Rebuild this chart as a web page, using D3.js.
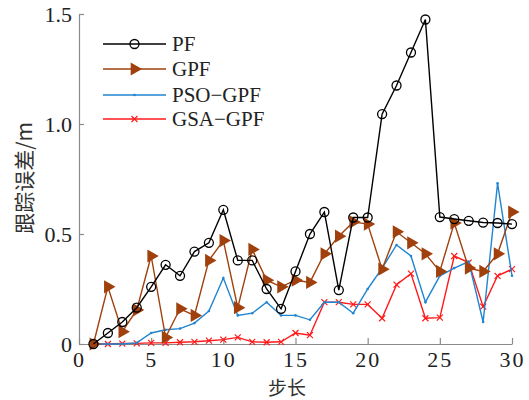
<!DOCTYPE html>
<html>
<head>
<meta charset="utf-8">
<script src="https://cdn.jsdelivr.net/npm/d3@7"></script>
<style>
  body { margin: 0; background: #fff; }
</style>
</head>
<body>
<div id="chart"></div>
<script>
// step numbers and tracking error (m) per method
let steps = d3.range(1, 31)

let pfValues = [0, 0.05, 0.10, 0.165, 0.26, 0.36, 0.31, 0.42, 0.46, 0.61,
	0.38, 0.38, 0.25, 0.16, 0.33, 0.50, 0.60, 0.245, 0.575, 0.575,
	1.045, 1.175, 1.325, 1.475, 0.577, 0.568, 0.56, 0.552, 0.55, 0.545]

let gpfValues = [0, 0.26, 0.056, 0.155, 0.40, 0.03, 0.16, 0.13, 0.38, 0.47,
	0.165, 0.43, 0.29, 0.26, 0.29, 0.28, 0.41, 0.49, 0.555, 0.545,
	0.34, 0.51, 0.46, 0.41, 0.33, 0.55, 0.345, 0.33, 0.41, 0.60]

let psoValues = [0, 0, 0, 0.005, 0.05, 0.065, 0.07, 0.095, 0.15, 0.30,
	0.13, 0.14, 0.19, 0.13, 0.13, 0.11, 0.19, 0.19, 0.14, 0.25,
	0.345, 0.45, 0.40, 0.19, 0.31, 0.345, 0.375, 0.10, 0.73, 0.31]

let gsaValues = [0, 0, 0.002, 0.003, 0.005, 0.005, 0.008, 0.01, 0.015, 0.02,
	0.03, 0.01, 0.008, 0.01, 0.05, 0.04, 0.19, 0.19, 0.18, 0.18,
	0.117, 0.27, 0.32, 0.117, 0.12, 0.40, 0.37, 0.17, 0.31, 0.34]

let seriesNames = ['PF', 'GPF', 'PSO\u2212GPF', 'GSA\u2212GPF']
let seriesColors = ['#000000', '#a0400c', '#2185d0', '#ff1a1a']
let seriesMarkers = ['circle', 'triangle', 'dot', 'cross']
let seriesValues = [pfValues, gpfValues, psoValues, gsaValues]

let xTicks = [0, 5, 10, 15, 20, 25, 30]
let yTicks = [0, 0.5, 1.0, 1.5]
let yTickLabels = ['0', '0.5', '1.0', '1.5']

let width = 529
let height = 400

let xScale = d3.scaleLinear()
	.domain([0, 30])
	.range([79, 512])

let yScale = d3.scaleLinear()
	.domain([0, 1.5])
	.range([344, 14])

const svg = d3.select('#chart')
	.append('svg')
	.attr('width', width)
	.attr('height', height)

const serif = '"Liberation Serif", "Times New Roman", serif'
const axisColor = '#8a8a8a'

// axes, ticks pointing inward like the matlab figure
let xAxis = g => g.attr('transform', `translate(0,${yScale(0)})`)
	.call(d3.axisBottom(xScale).tickValues(xTicks).tickSizeInner(-6).tickSizeOuter(0).tickPadding(7))

let yAxis = g => g.attr('transform', `translate(${xScale(0)},0)`)
	.call(d3.axisLeft(yScale).tickValues(yTicks).tickFormat((d, i) => yTickLabels[i]).tickSizeInner(-5).tickSizeOuter(0).tickPadding(7))

let xG = svg.append('g').call(xAxis)
let yG = svg.append('g').call(yAxis)

;[xG, yG].forEach(function(g){
	g.selectAll('path').attr('stroke', axisColor).attr('stroke-width', 1.2)
	g.selectAll('line').attr('stroke', axisColor).attr('stroke-width', 1.2)
	g.selectAll('text')
		.attr('fill', '#222')
		.attr('font-family', serif)
		.attr('font-size', 22)
})
xG.selectAll('text').attr('letter-spacing', 2)

let line = d3.line()
	.x((d, i) => xScale(steps[i]))
	.y(d => yScale(d))

let triangle = d3.symbol().type(d3.symbolTriangle).size(75)

function drawMarker(g, kind, color, x, y){
	if(kind == 'circle'){
		g.append('circle')
			.attr('cx', x).attr('cy', y).attr('r', 4.5)
			.attr('fill', 'none').attr('stroke', color).attr('stroke-width', 1.3)
	}
	else if(kind == 'triangle'){
		g.append('path')
			.attr('d', triangle())
			.attr('transform', `translate(${x},${y}) rotate(90)`)
			.attr('fill', color)
	}
	else if(kind == 'dot'){
		g.append('circle')
			.attr('cx', x).attr('cy', y).attr('r', 1.3)
			.attr('fill', color)
	}
	else {
		g.append('path')
			.attr('d', `M${x - 3},${y - 3}L${x + 3},${y + 3}M${x - 3},${y + 3}L${x + 3},${y - 3}`)
			.attr('stroke', color).attr('stroke-width', 1.2)
	}
}

// draw back to front so PF sits on top
for(let s = 3; s >= 0; s--){
	let g = svg.append('g')
	g.append('path')
		.datum(seriesValues[s])
		.attr('d', line)
		.attr('fill', 'none')
		.attr('stroke', seriesColors[s])
		.attr('stroke-width', 1.4)
	seriesValues[s].forEach(function(v, i){
		drawMarker(g, seriesMarkers[s], seriesColors[s], xScale(steps[i]), yScale(v))
	})
}

// legend
let legendRows = [44, 69, 95, 119]
seriesNames.forEach(function(name, s){
	let lg = svg.append('g')
	let y = legendRows[s]
	lg.append('line')
		.attr('x1', 103).attr('x2', 166)
		.attr('y1', y).attr('y2', y)
		.attr('stroke', seriesColors[s])
		.attr('stroke-width', 1.6)
	drawMarker(lg, seriesMarkers[s], seriesColors[s], 134.5, y)
	lg.append('text')
		.attr('x', 172)
		.attr('y', y + 7)
		.attr('font-family', serif)
		.attr('font-size', 21)
		.attr('fill', '#222')
		.text(name)
})

// axis titles
svg.append('text')
	.attr('x', 287)
	.attr('y', 395)
	.attr('text-anchor', 'middle')
	.attr('font-family', '"Noto Sans CJK SC", sans-serif')
	.attr('font-size', 19)
	.attr('fill', '#333')
	.text('步长')

svg.append('text')
	.attr('transform', 'translate(32,178) rotate(-90)')
	.attr('text-anchor', 'middle')
	.attr('font-family', '"Noto Sans CJK SC", sans-serif')
	.attr('font-size', 21)
	.attr('fill', '#333')
	.text('跟踪误差/m')
</script>
</body>
</html>
